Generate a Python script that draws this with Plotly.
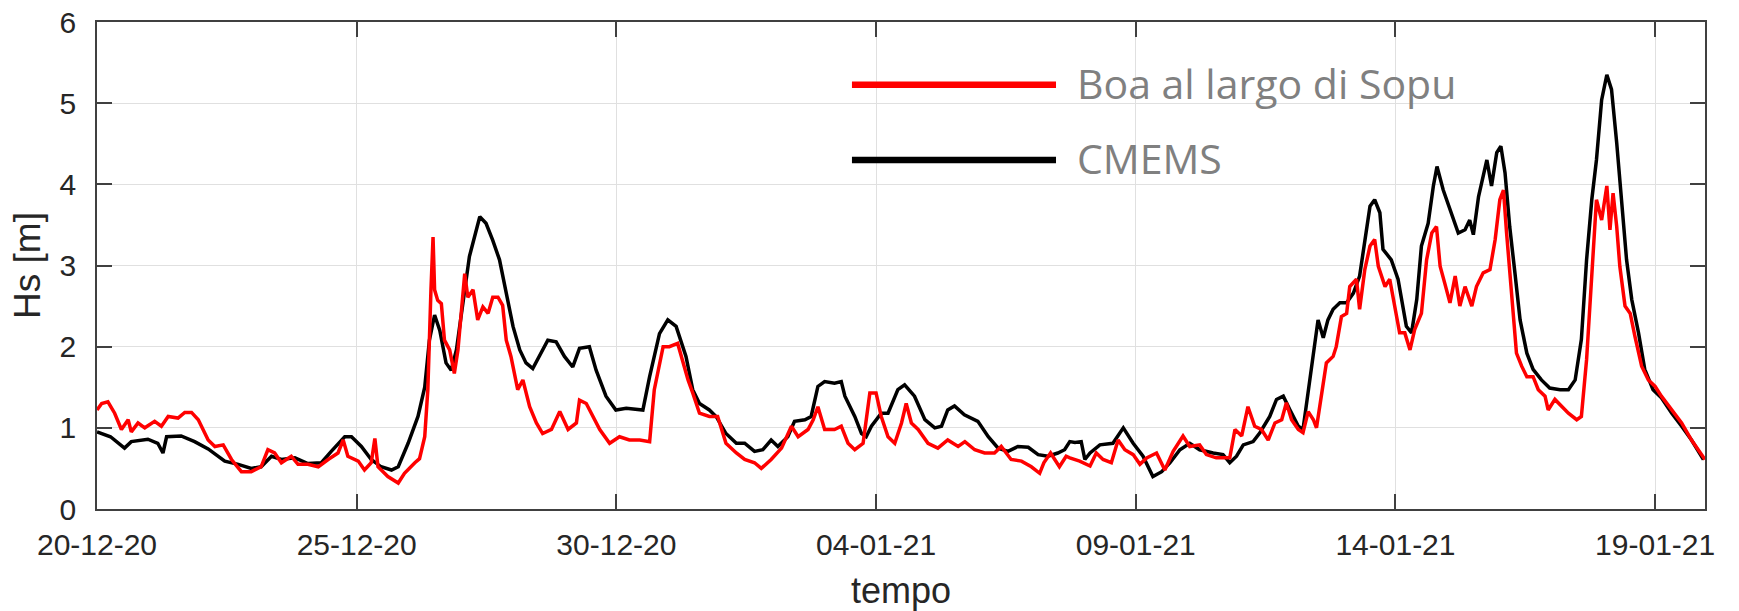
import pandas as pd
import plotly.graph_objects as go

BASE_DATE = "2020-12-20"

# CMEMS (model) - day offsets from 20-12-20 and Hs [m]
cmems_days = [0.0, 0.26, 0.53, 0.66, 0.98, 1.17, 1.27, 1.34, 1.62, 1.88, 2.14, 2.46, 2.72, 2.97, 3.16, 3.36,
              3.55, 3.81, 4.06, 4.32, 4.51, 4.77, 4.90, 5.09, 5.28, 5.47, 5.67, 5.80, 5.99, 6.18, 6.31, 6.40,
              6.50, 6.60, 6.72, 6.82, 6.92, 7.04, 7.17, 7.37, 7.49, 7.62, 7.75, 7.88, 8.01, 8.14, 8.26, 8.39,
              8.52, 8.68, 8.84, 9.00, 9.16, 9.29, 9.48, 9.61, 9.80, 9.99, 10.19, 10.38, 10.51, 10.64, 10.83,
              10.99, 11.15, 11.34, 11.47, 11.60, 11.79, 11.92, 12.11, 12.31, 12.47, 12.66, 12.82, 12.98, 13.11,
              13.30, 13.43, 13.63, 13.75, 13.88, 14.01, 14.20, 14.33, 14.40, 14.59, 14.72, 14.81, 14.91, 15.10,
              15.23, 15.42, 15.55, 15.74, 15.94, 16.13, 16.26, 16.38, 16.51, 16.70, 16.96, 17.16, 17.35, 17.54,
              17.73, 17.93, 18.12, 18.31, 18.50, 18.63, 18.73, 18.83, 18.95, 19.02, 19.12, 19.31, 19.56, 19.76,
              19.95, 20.14, 20.33, 20.50, 20.66, 20.85, 21.04, 21.23, 21.49, 21.68, 21.81, 21.94, 22.07, 22.26,
              22.39, 22.58, 22.71, 22.84, 22.97, 23.13, 23.22, 23.32, 23.42, 23.51, 23.61, 23.70, 23.80, 23.93,
              24.06, 24.19, 24.31, 24.41, 24.51, 24.60, 24.70, 24.76, 24.92, 25.05, 25.12, 25.21, 25.31, 25.41,
              25.50, 25.63, 25.73, 25.80, 25.92, 26.05, 26.21, 26.34, 26.43, 26.50, 26.60, 26.76, 26.85, 26.95,
              27.03, 27.11, 27.20, 27.30, 27.40, 27.53, 27.65, 27.81, 27.97, 28.17, 28.33, 28.46, 28.58, 28.68,
              28.78, 28.87, 28.97, 29.07, 29.16, 29.26, 29.35, 29.45, 29.55, 29.68, 29.80, 29.96, 30.12, 30.32,
              30.51, 30.70, 30.93]
cmems_hs = [0.95, 0.89, 0.75, 0.83, 0.86, 0.81, 0.69, 0.89, 0.90, 0.83, 0.74, 0.59, 0.55, 0.50, 0.52, 0.65,
            0.61, 0.63, 0.56, 0.57, 0.71, 0.89, 0.89, 0.77, 0.61, 0.52, 0.48, 0.52, 0.81, 1.14, 1.50, 2.08,
            2.39, 2.20, 1.80, 1.71, 1.96, 2.49, 3.11, 3.60, 3.52, 3.31, 3.07, 2.66, 2.25, 1.96, 1.80, 1.73,
            1.88, 2.08, 2.06, 1.88, 1.75, 1.98, 2.00, 1.71, 1.39, 1.22, 1.24, 1.23, 1.22, 1.63, 2.16,
            2.33, 2.25, 1.88, 1.47, 1.30, 1.22, 1.14, 0.93, 0.81, 0.81, 0.71, 0.73, 0.85, 0.77,
            0.89, 1.08, 1.10, 1.14, 1.51, 1.57, 1.55, 1.57, 1.39, 1.14, 0.93, 0.89, 1.02, 1.18,
            1.18, 1.47, 1.53, 1.39, 1.10, 1.00, 1.02, 1.22, 1.27, 1.16, 1.08, 0.89, 0.75, 0.71,
            0.77, 0.76, 0.67, 0.65, 0.69, 0.73, 0.83, 0.82, 0.83, 0.61, 0.69, 0.79, 0.81, 1.00,
            0.81, 0.65, 0.40, 0.46, 0.57, 0.73, 0.81, 0.73, 0.69, 0.67, 0.57, 0.65, 0.79, 0.83,
            0.94, 1.14, 1.35, 1.39, 1.22, 1.02, 0.98, 1.47, 1.96, 2.33, 2.11, 2.33, 2.46, 2.54,
            2.54, 2.66, 2.87, 3.32, 3.73, 3.81, 3.65, 3.20, 3.07, 2.83, 2.58, 2.25, 2.17, 2.58,
            3.24, 3.52, 3.98, 4.22, 3.93, 3.69, 3.40, 3.44, 3.56, 3.38, 3.85, 4.30, 3.98, 4.39,
            4.47, 4.14, 3.48, 2.91, 2.33, 1.92, 1.72, 1.59, 1.49, 1.47, 1.47, 1.59, 2.09, 3.07,
            3.81, 4.30, 5.04, 5.35, 5.17, 4.51, 3.77, 3.07, 2.58, 2.17, 1.72, 1.47, 1.37, 1.18,
            1.02, 0.85, 0.61]

# Boa al largo di Sopu (buoy) - day offsets from 20-12-20 and Hs [m]
boa_days = [0.0, 0.09, 0.21, 0.34, 0.47, 0.60, 0.66, 0.79, 0.92, 1.11, 1.24, 1.37, 1.56, 1.69, 1.82, 1.95,
            2.14, 2.27, 2.43, 2.59, 2.78, 2.97, 3.16, 3.29, 3.42, 3.55, 3.74, 3.87, 4.06, 4.26, 4.45, 4.64,
            4.74, 4.83, 5.03, 5.15, 5.28, 5.35, 5.41, 5.60, 5.80, 5.92, 6.12, 6.21, 6.31, 6.37, 6.43, 6.47,
            6.50, 6.56, 6.63, 6.69, 6.79, 6.88, 6.95, 7.01, 7.08, 7.14, 7.24, 7.33, 7.43, 7.53, 7.62, 7.72,
            7.81, 7.88, 7.97, 8.10, 8.20, 8.33, 8.46, 8.58, 8.75, 8.91, 9.07, 9.23, 9.29, 9.42, 9.55, 9.68,
            9.87, 10.06, 10.25, 10.45, 10.64, 10.73, 10.90, 11.02, 11.18, 11.28, 11.38, 11.47, 11.60, 11.79,
            11.95, 12.11, 12.31, 12.47, 12.66, 12.79, 12.98, 13.18, 13.37, 13.50, 13.69, 13.79, 13.88, 14.01,
            14.20, 14.33, 14.46, 14.59, 14.75, 14.88, 15.00, 15.10, 15.23, 15.36, 15.49, 15.58, 15.68, 15.81,
            16.00, 16.19, 16.38, 16.58, 16.71, 16.90, 17.09, 17.28, 17.41, 17.60, 17.80, 17.99, 18.15, 18.23,
            18.36, 18.53, 18.66, 18.73, 18.92, 19.12, 19.24, 19.37, 19.53, 19.66, 19.79, 19.95, 20.08, 20.21,
            20.40, 20.56, 20.72, 20.91, 21.04, 21.23, 21.36, 21.55, 21.81, 21.91, 22.04, 22.16, 22.29, 22.42,
            22.55, 22.68, 22.81, 22.90, 23.00, 23.13, 23.22, 23.32, 23.42, 23.48, 23.58, 23.67, 23.80, 23.86,
            23.96, 24.06, 24.12, 24.25, 24.31, 24.41, 24.51, 24.60, 24.67, 24.80, 24.89, 24.99, 25.08, 25.18,
            25.28, 25.37, 25.50, 25.60, 25.70, 25.79, 25.86, 25.95, 26.05, 26.15, 26.24, 26.34, 26.47, 26.56,
            26.69, 26.82, 26.92, 27.01, 27.08, 27.14, 27.24, 27.33, 27.43, 27.53, 27.65, 27.75, 27.88, 27.94,
            28.07, 28.20, 28.33, 28.49, 28.58, 28.68, 28.78, 28.87, 28.97, 29.07, 29.13, 29.19, 29.26, 29.32,
            29.42, 29.52, 29.61, 29.74, 29.87, 30.00, 30.12, 30.32, 30.51, 30.70, 30.96]
boa_hs = [1.22, 1.30, 1.32, 1.18, 0.98, 1.10, 0.95, 1.06, 1.00, 1.08, 1.02, 1.14, 1.12, 1.19, 1.19, 1.10,
          0.85, 0.77, 0.79, 0.61, 0.46, 0.46, 0.52, 0.73, 0.69, 0.57, 0.65, 0.55, 0.55, 0.52, 0.61, 0.69,
          0.85, 0.65, 0.59, 0.48, 0.57, 0.87, 0.52, 0.40, 0.32, 0.44, 0.57, 0.62, 0.89, 1.47, 2.70, 3.35,
          2.70, 2.57, 2.53, 2.08, 1.96, 1.67, 1.96, 2.37, 2.90, 2.61, 2.70, 2.33, 2.49, 2.41, 2.61, 2.61,
          2.51, 2.08, 1.88, 1.47, 1.59, 1.26, 1.06, 0.93, 0.98, 1.20, 0.98, 1.06, 1.34, 1.30, 1.14, 0.98,
          0.81, 0.89, 0.85, 0.85, 0.83, 1.47, 2.00, 2.00, 2.04, 1.80, 1.59, 1.43, 1.18, 1.14,
          1.14, 0.81, 0.69, 0.61, 0.57, 0.50, 0.61, 0.75, 1.02, 0.89, 0.98, 1.10, 1.26, 0.98,
          0.98, 1.02, 0.81, 0.73, 0.81, 1.43, 1.43, 1.14, 0.89, 0.81, 1.06, 1.30, 1.06, 0.98,
          0.81, 0.75, 0.85, 0.77, 0.83, 0.73, 0.69, 0.69, 0.77, 0.61, 0.59, 0.52, 0.44, 0.57,
          0.69, 0.52, 0.65, 0.63, 0.59, 0.53, 0.69, 0.61, 0.57, 0.85, 0.73, 0.67, 0.55, 0.63,
          0.69, 0.48, 0.71, 0.90, 0.77, 0.79, 0.67, 0.63, 0.63, 0.98, 0.90, 1.26, 1.02, 0.98,
          0.85, 1.06, 1.10, 1.31, 1.10, 0.98, 0.94, 1.20, 1.10, 1.00, 1.43, 1.80, 1.88, 2.00,
          2.37, 2.41, 2.74, 2.83, 2.46, 2.95, 3.24, 3.32, 2.99, 2.74, 2.83, 2.50, 2.17, 2.17,
          1.96, 2.21, 2.41, 3.07, 3.40, 3.48, 2.99, 2.78, 2.54, 2.87, 2.50, 2.74, 2.50, 2.74,
          2.91, 2.95, 3.32, 3.81, 3.93, 3.40, 2.58, 1.92, 1.76, 1.63, 1.63, 1.47, 1.39, 1.22,
          1.35, 1.26, 1.18, 1.10, 1.14, 1.84, 2.87, 3.81, 3.56, 3.98, 3.44, 3.89, 3.48, 2.99,
          2.50, 2.41, 2.13, 1.76, 1.59, 1.51, 1.39, 1.22, 1.06, 0.85, 0.61]

series_names = ["Boa al largo di Sopu", "CMEMS"]
series_colors = ["#ff0000", "#000000"]

x_end_days = 30.96
y_ticks = [0, 1, 2, 3, 4, 5, 6]

base = pd.Timestamp(BASE_DATE)
to_dt = lambda days: [base + pd.Timedelta(days=d) for d in days]

fig = go.Figure()
fig.add_trace(go.Scatter(x=to_dt(cmems_days), y=cmems_hs, mode="lines", name=series_names[1],
                         line=dict(color=series_colors[1], width=3.5), showlegend=False))
fig.add_trace(go.Scatter(x=to_dt(boa_days), y=boa_hs, mode="lines", name=series_names[0],
                         line=dict(color=series_colors[0], width=3.5), showlegend=False))

axis_color = "#404040"
font_family = "Liberation Sans, Arial, sans-serif"
tick_font = dict(family=font_family, size=30, color="#262626")

fig.update_xaxes(
    range=[base, base + pd.Timedelta(days=x_end_days)],
    tick0=BASE_DATE, dtick=5 * 86400000, tickformat="%d-%m-%y",
    ticks="inside", ticklen=15, tickwidth=1.5, tickcolor=axis_color,
    showline=True, linecolor=axis_color, linewidth=1.5, mirror="ticks",
    showgrid=True, gridcolor="#e0e0e0", gridwidth=1.2,
    tickfont=tick_font, ticklabelstandoff=8, ticklabeloverflow="allow",
    title=dict(text="tempo", font=dict(family=font_family, size=36, color="#262626"), standoff=27),
    zeroline=False, automargin=False,
)
fig.update_yaxes(
    range=[0, 6], tickvals=y_ticks,
    ticks="inside", ticklen=15, tickwidth=1.5, tickcolor=axis_color,
    showline=True, linecolor=axis_color, linewidth=1.5, mirror="ticks",
    showgrid=True, gridcolor="#e0e0e0", gridwidth=1.2,
    tickfont=tick_font, ticklabelstandoff=13, ticklabeloverflow="allow",
    title=dict(text="Hs [m]", font=dict(family=font_family, size=37, color="#262626"), standoff=8),
    zeroline=False, automargin=False,
)

# Manual legend (long line samples with large grey labels)
legend_y = [0.8713, 0.7168]
for name, color, ly in zip(series_names, series_colors, legend_y):
    fig.add_shape(type="line", xref="paper", yref="paper", x0=0.4695, x1=0.5964, y0=ly, y1=ly,
                  line=dict(color=color, width=6.5))
    fig.add_annotation(xref="paper", yref="paper", x=0.6085, y=ly + 0.004, xanchor="left", yanchor="middle",
                       text=name, showarrow=False,
                       font=dict(family="Open Sans, sans-serif", size=41, color="#808080"))

fig.update_layout(
    width=1739, height=611,
    margin=dict(l=97, r=34, t=22, b=102, autoexpand=False),
    plot_bgcolor="white", paper_bgcolor="white",
    showlegend=False,
)

# remove the default page body margin so the figure sits at the window's top-left corner
fig.write_html("out.html", config={"displayModeBar": False},
               post_script="document.body.style.margin='0px';document.body.style.overflow='hidden';")
